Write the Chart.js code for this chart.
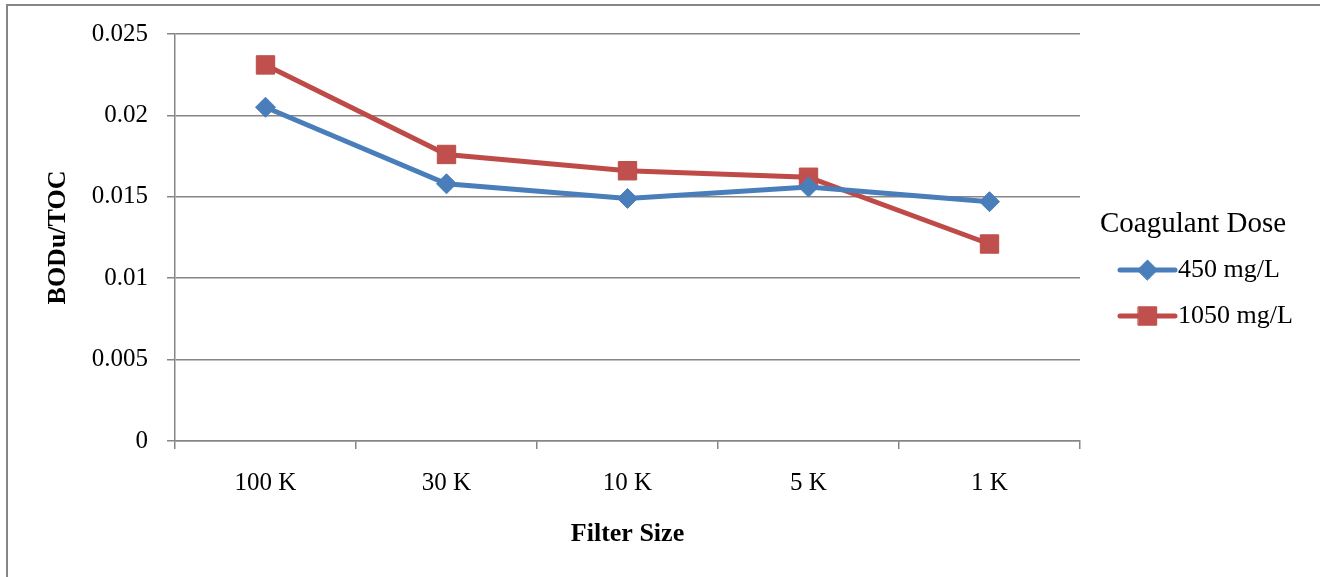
<!DOCTYPE html>
<html>
<head>
<meta charset="utf-8">
<title>BODu/TOC by Filter Size</title>
<script src="https://cdn.jsdelivr.net/npm/chart.js@4/dist/chart.umd.min.js"></script>
<style>
  html, body { margin: 0; padding: 0; background: #ffffff; }
  #wrap { position: relative; width: 1320px; height: 577px; }
</style>
</head>
<body>
<div id="wrap"><canvas id="c" width="1320" height="577"></canvas></div>
<script>
// Categories and series values
const filterSizes = ['100 K', '30 K', '10 K', '5 K', '1 K'];
const dose450 = [0.0205, 0.0158, 0.0149, 0.0156, 0.0147];
const dose1050 = [0.0231, 0.0176, 0.0166, 0.0162, 0.0121];
const seriesNames = ['450 mg/L', '1050 mg/L'];
const legendTitle = 'Coagulant Dose';
const yTickLabels = ['0', '0.005', '0.01', '0.015', '0.02', '0.025'];
const yTitle = 'BODu/TOC';
const xTitle = 'Filter Size';

const AXIS_GRAY = '#868686';
const SERIF = '"Liberation Serif", "Times New Roman", serif';

// White background and the outer frame of the chart object
const framePlugin = {
  id: 'frame',
  beforeDraw(chart) {
    const ctx = chart.ctx;
    ctx.save();
    ctx.fillStyle = '#ffffff';
    ctx.fillRect(0, 0, chart.width, chart.height);
    ctx.strokeStyle = AXIS_GRAY;
    ctx.lineWidth = 2;
    ctx.strokeRect(7, 5, chart.width + 20, chart.height + 20);
    ctx.restore();
  }
};

// Legend drawn as line + marker samples, to the right of the plot
const sideLegendPlugin = {
  id: 'sideLegend',
  afterDraw(chart) {
    const ctx = chart.ctx;
    const area = chart.chartArea;
    const x0 = area.right + 20;
    ctx.save();
    ctx.fillStyle = '#000000';
    ctx.textAlign = 'left';
    ctx.textBaseline = 'middle';
    ctx.font = '29px ' + SERIF;
    ctx.fillText(legendTitle, x0, 224);
    const rowY = [270, 316];
    chart.data.datasets.forEach((ds, i) => {
      const y = rowY[i];
      const lx1 = x0 + 20, lx2 = x0 + 75;
      ctx.strokeStyle = ds.borderColor;
      ctx.lineWidth = ds.borderWidth;
      ctx.lineCap = 'round';
      ctx.beginPath();
      ctx.moveTo(lx1, y);
      ctx.lineTo(lx2, y);
      ctx.stroke();
      ctx.fillStyle = ds.pointBackgroundColor;
      ctx.strokeStyle = ds.pointBorderColor;
      ctx.lineWidth = ds.pointBorderWidth;
      Chart.helpers.drawPoint(ctx, {
        pointStyle: ds.pointStyle,
        radius: ds.pointRadius,
        rotation: 0,
        borderWidth: ds.pointBorderWidth
      }, (lx1 + lx2) / 2, y);
      ctx.fillStyle = '#000000';
      ctx.font = '26px ' + SERIF;
      ctx.fillText(ds.label, lx2 + 3, y);
    });
    ctx.restore();
  }
};

new Chart(document.getElementById('c'), {
  type: 'line',
  data: {
    labels: filterSizes,
    datasets: [
      {
        label: seriesNames[0],
        data: dose450,
        borderColor: '#4A7EBB',
        borderWidth: 5,
        pointStyle: 'rectRot',
        pointRadius: 10,
        pointBackgroundColor: '#4A7EBB',
        pointBorderColor: '#4A7EBB',
        pointBorderWidth: 1,
        tension: 0
      },
      {
        label: seriesNames[1],
        data: dose1050,
        borderColor: '#BE4B48',
        borderWidth: 5,
        pointStyle: 'rect',
        pointRadius: 13,
        pointBackgroundColor: '#C0504D',
        pointBorderColor: '#BE4B48',
        pointBorderWidth: 1,
        tension: 0
      }
    ]
  },
  options: {
    responsive: false,
    animation: false,
    devicePixelRatio: 1,
    layout: { padding: { top: 34, right: 240, left: 0, bottom: 0 } },
    plugins: {
      legend: { display: false },
      tooltip: { enabled: false }
    },
    scales: {
      x: {
        type: 'category',
        offset: true,
        afterFit(scale) { scale.height = 136; },
        grid: {
          offset: true,
          drawOnChartArea: false,
          drawTicks: true,
          tickLength: 8,
          color: AXIS_GRAY,
          lineWidth: 1.5
        },
        border: { display: true, color: AXIS_GRAY, width: 1.5 },
        ticks: {
          color: '#000000',
          padding: 19,
          maxRotation: 0,
          font: { family: SERIF, size: 25 }
        },
        title: {
          display: true,
          text: xTitle,
          color: '#000000',
          font: { family: SERIF, size: 26, weight: 'bold' },
          padding: { top: 0, bottom: 27 }
        }
      },
      y: {
        min: 0,
        max: 0.025,
        afterFit(scale) { scale.width = 175; },
        grid: {
          color: AXIS_GRAY,
          lineWidth: 1.5,
          tickLength: 8
        },
        border: { display: true, color: AXIS_GRAY, width: 1.5 },
        ticks: {
          stepSize: 0.005,
          color: '#000000',
          padding: 19,
          font: { family: SERIF, size: 25 },
          callback: (value, index) => yTickLabels[index]
        },
        title: {
          display: true,
          text: yTitle,
          color: '#000000',
          font: { family: SERIF, size: 26, weight: 'bold' },
          padding: { top: 43, bottom: 0 }
        }
      }
    }
  },
  plugins: [framePlugin, sideLegendPlugin]
});
</script>
</body>
</html>
